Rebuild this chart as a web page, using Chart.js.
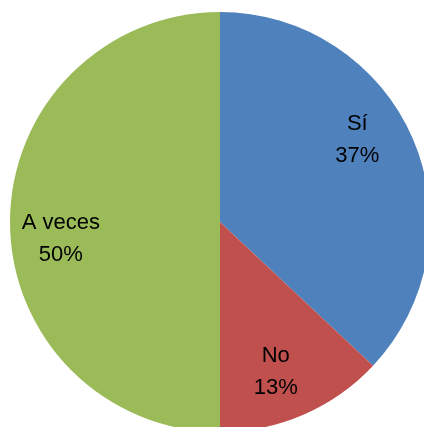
<!DOCTYPE html>
<html>
<head>
<meta charset="utf-8">
<script src="https://cdn.jsdelivr.net/npm/chart.js@4"></script>
<style>
  html, body { margin: 0; padding: 0; background: #fff; overflow: hidden; }
  #wrap { width: 424px; height: 427px; overflow: hidden; }
</style>
</head>
<body>
<div id="wrap"><canvas id="myChart" width="440" height="444"></canvas></div>
<script>
// chart values
const categories = ['Sí', 'No', 'A veces'];
const percentages = [37, 13, 50];
const sliceColors = ['#4F81BD', '#C0504D', '#9BBB59'];

// labels drawn inside each slice: name on top, percentage below
const sliceLabels = {
    id: 'sliceLabels',
    afterDatasetsDraw(chart, args, opts) {
        const ctx = chart.ctx;
        const meta = chart.getDatasetMeta(0);
        ctx.save();
        ctx.font = opts.font;
        ctx.fillStyle = opts.color;
        ctx.textAlign = 'center';
        ctx.textBaseline = 'middle';
        meta.data.forEach((arc, i) => {
            const nudge = (opts.angleNudge[i] || 0) * Math.PI / 180;
            const mid = (arc.startAngle + arc.endAngle) / 2 + nudge;
            const r = arc.outerRadius * opts.radiusFactor;
            const x = arc.x + Math.cos(mid) * r;
            const y = arc.y + Math.sin(mid) * r;
            ctx.fillText(categories[i], x, y - opts.lineGap / 2);
            ctx.fillText(percentages[i] + '%', x, y + opts.lineGap / 2);
        });
        ctx.restore();
    }
};

const chart = new Chart(
    document.getElementById('myChart'),
    {
        type: 'pie',
        data: {
            labels: categories,
            datasets: [
                {
                    data: percentages,
                    backgroundColor: sliceColors,
                    borderWidth: 0,
                    hoverOffset: 0,
                    offset: 0
                }
            ]
        },
        options: {
            responsive: false,
            animation: false,
            events: [],
            layout: { padding: { left: 10, top: 12, right: 10, bottom: 12 } },
            plugins: {
                legend: { display: false },
                tooltip: { enabled: false },
                sliceLabels: {
                    font: '22px "Liberation Sans", Arial, sans-serif',
                    color: '#000',
                    radiusFactor: 0.762,
                    lineGap: 32,
                    angleNudge: [-7.5, 3, -6]
                }
            }
        },
        plugins: [sliceLabels]
    }
);
</script>
</body>
</html>
